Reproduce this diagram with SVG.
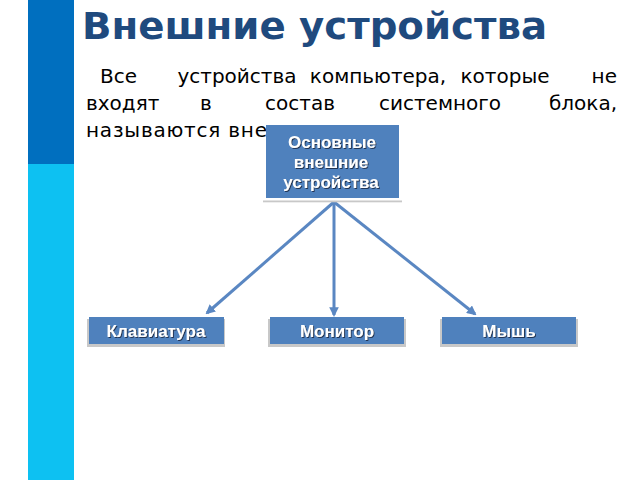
<svg xmlns="http://www.w3.org/2000/svg" width="640" height="480" viewBox="0 0 640 480">
<defs>
<style>
.title{font-family:"DejaVu Sans",Verdana,sans-serif;font-weight:bold;font-size:38px;fill:#1F4A7E}
.para{font-family:"DejaVu Sans",Verdana,sans-serif;font-size:20px;fill:#000}
.box{fill:#4F81BD}
.shd{fill:#C8C8C8}
.lbl{font-family:"Liberation Sans",Arial,sans-serif;font-weight:bold;font-size:17px;fill:#FFFFFF;text-anchor:middle}
.conn{stroke:#5A87C2;stroke-width:3;fill:none;marker-end:url(#ah)}
</style>
<filter id="ts" x="-10%" y="-30%" width="120%" height="160%">
<feDropShadow dx="1" dy="1" stdDeviation="0.4" flood-color="#1B2E48" flood-opacity="0.9"/>
</filter>
<marker id="ah" viewBox="0 0 10 10" refX="8" refY="5" markerWidth="3.2" markerHeight="3.2" orient="auto" markerUnits="strokeWidth">
<path d="M0,0 L10,5 L0,10 z" fill="#5A87C2"/>
</marker>
</defs>
<rect width="640" height="480" fill="#FFFFFF"/>
<g id="sidebar">
<rect x="28" y="0" width="46" height="164" fill="#006FBF"/>
<rect x="28" y="164" width="46" height="316" fill="#0DC1F2"/>
</g>
<text class="title" x="82" y="39" textLength="465" lengthAdjust="spacingAndGlyphs">Внешние устройства</text>
<g id="paragraph" class="para">
<text x="100" y="83">Все</text>
<text x="237" y="83" text-anchor="middle">устройства</text>
<text x="378" y="83" text-anchor="middle">компьютера,</text>
<text x="505" y="83" text-anchor="middle">которые</text>
<text x="617" y="83" text-anchor="end">не</text>
<text x="86" y="110">входят</text>
<text x="206" y="110" text-anchor="middle">в</text>
<text x="300" y="110" text-anchor="middle">состав</text>
<text x="440" y="110" text-anchor="middle">системного</text>
<text x="617" y="110" text-anchor="end">блока,</text>
<text x="86" y="137" textLength="181" lengthAdjust="spacing">называются вне</text>
</g>
<g id="connectors">
<line class="conn" x1="334" y1="202" x2="207" y2="313"/>
<line class="conn" x1="334" y1="202" x2="334" y2="315"/>
<line class="conn" x1="334" y1="202" x2="475" y2="314"/>
</g>
<g id="node-main">
<rect class="shd" x="263" y="200.5" width="139" height="1.8"/>
<rect class="box" x="266" y="125" width="133" height="73"/>
<g filter="url(#ts)">
<text class="lbl" x="332" y="148">Основные</text>
<text class="lbl" x="331" y="168">внешние</text>
<text class="lbl" x="331" y="188">устройства</text>
</g>
</g>
<g id="node-keyboard">
<rect class="shd" x="87" y="319" width="138" height="28"/>
<rect class="box" x="89" y="317" width="135" height="27"/>
<text class="lbl" x="156" y="337" filter="url(#ts)">Клавиатура</text>
</g>
<g id="node-monitor">
<rect class="shd" x="268" y="319" width="138" height="28"/>
<rect class="box" x="270" y="317" width="134" height="27"/>
<text class="lbl" x="337" y="337" filter="url(#ts)">Монитор</text>
</g>
<g id="node-mouse">
<rect class="shd" x="440" y="319" width="138" height="28"/>
<rect class="box" x="442" y="317" width="134" height="27"/>
<text class="lbl" x="509" y="337" filter="url(#ts)">Мышь</text>
</g>
</svg>
